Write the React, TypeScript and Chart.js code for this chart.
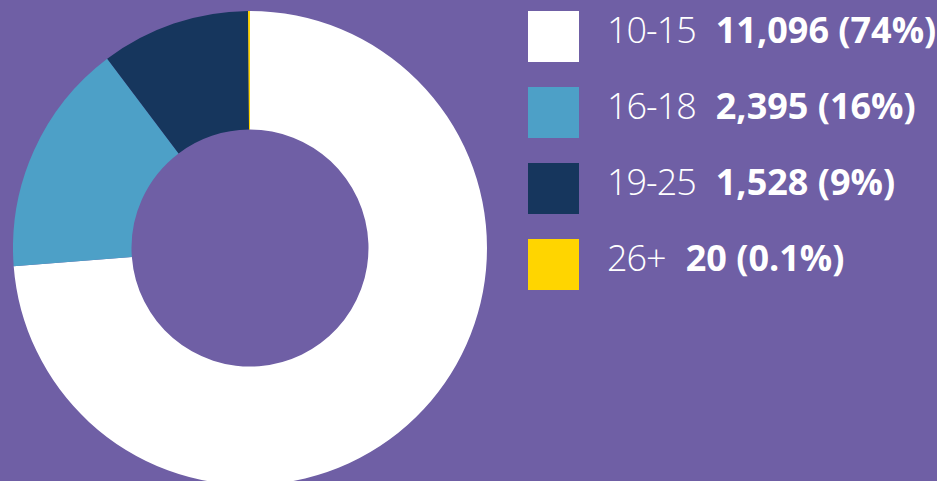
import React, { useEffect, useRef } from "react";
import { Chart, registerables } from "chart.js";

Chart.register(...registerables);

const categories = ["10-15", "16-18", "19-25", "26+"];
const values = [11096, 2395, 1528, 20];
const valueLabels = ["11,096 (74%)", "2,395 (16%)", "1,528 (9%)", "20 (0.1%)"];
const colors = ["#FFFFFF", "#4DA0C7", "#16365D", "#FFD500"];

const BG = "#6F5FA5";

export default function App() {
  const ref = useRef<HTMLCanvasElement | null>(null);

  useEffect(() => {
    document.body.style.margin = "0";
    document.body.style.background = BG;
    if (!ref.current) return;
    const chart = new Chart(ref.current, {
      type: "doughnut",
      data: {
        labels: categories,
        datasets: [
          {
            data: values,
            backgroundColor: colors,
            borderWidth: 0,
          },
        ],
      },
      options: {
        responsive: false,
        animation: false,
        cutout: "50%",
        layout: { padding: 0 },
        plugins: {
          legend: { display: false },
          tooltip: { enabled: false },
        },
      },
    });
    return () => chart.destroy();
  }, []);

  return (
    <div
      style={{
        position: "fixed",
        left: 0,
        top: 0,
        width: 937,
        height: 481,
        background: BG,
        overflow: "hidden",
        fontFamily: "'Open Sans', sans-serif",
        color: "#FFFFFF",
      }}
    >
      <canvas
        ref={ref}
        width={474}
        height={474}
        style={{ position: "absolute", left: 13, top: 11, width: 474, height: 474 }}
      />
      {categories.map((c, i) => (
        <div key={c}>
          <div
            style={{
              position: "absolute",
              left: 528,
              top: 11 + i * 76,
              width: 51,
              height: 51,
              background: colors[i],
            }}
          />
          <div
            style={{
              position: "absolute",
              left: 607,
              top: 12 + i * 76,
              fontSize: 36,
              lineHeight: "36px",
              whiteSpace: "nowrap",
            }}
          >
            <span style={{ fontWeight: 300, letterSpacing: -1 }}>{c}</span>
            <span style={{ fontWeight: 700, marginLeft: 20 }}>{valueLabels[i]}</span>
          </div>
        </div>
      ))}
    </div>
  );
}
